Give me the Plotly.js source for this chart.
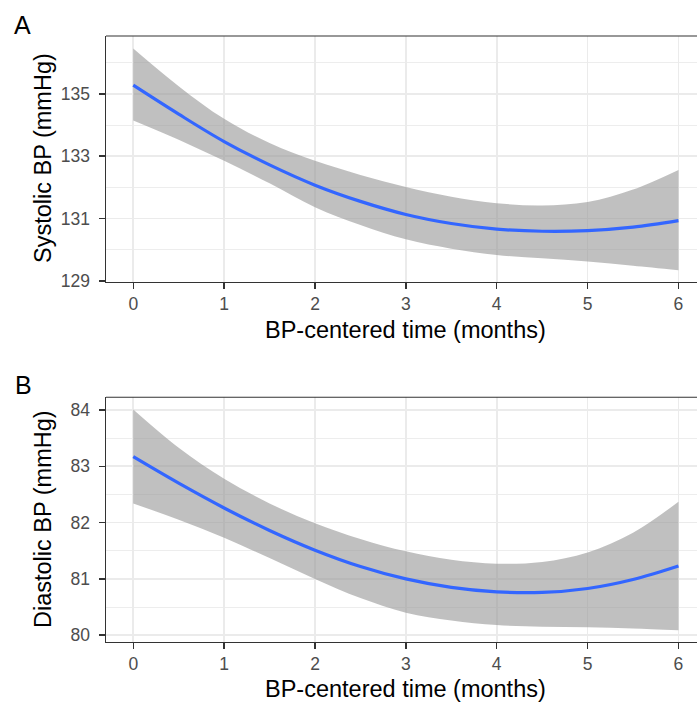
<!DOCTYPE html>
<html>
<head>
<meta charset="utf-8">
<script src="https://cdn.plot.ly/plotly-3.0.1.min.js"></script>
<style>html,body{margin:0;padding:0;background:#fff;}#chart{width:697px;height:702px;}</style>
</head>
<body>
<div id="chart"></div>
<script>
// ---- Data ----
const months = [0, 0.5, 1, 1.5, 2, 2.5, 3, 3.5, 4, 4.5, 5, 5.5, 6];

const sbpFit   = [135.28, 134.35, 133.47, 132.72, 132.07, 131.55, 131.13, 130.84, 130.66, 130.59, 130.61, 130.72, 130.93];
const sbpUpper = [136.46, 135.25, 134.20, 133.42, 132.85, 132.40, 132.01, 131.70, 131.49, 131.42, 131.53, 131.93, 132.56];
const sbpLower = [134.15, 133.53, 132.85, 132.13, 131.36, 130.79, 130.33, 130.03, 129.83, 129.72, 129.62, 129.48, 129.34];

const dbpFit   = [83.17, 82.70, 82.26, 81.86, 81.51, 81.22, 81.00, 80.85, 80.77, 80.76, 80.83, 80.99, 81.23];
const dbpUpper = [84.01, 83.33, 82.78, 82.34, 81.99, 81.71, 81.49, 81.34, 81.27, 81.30, 81.47, 81.82, 82.37];
const dbpLower = [82.34, 82.05, 81.73, 81.37, 81.00, 80.66, 80.40, 80.26, 80.18, 80.15, 80.14, 80.12, 80.09];

const panelLabels = ["A", "B"];
const xTitle = "BP-centered time (months)";
const yTitles = ["Systolic BP (mmHg)", "Diastolic BP (mmHg)"];

// ---- Styling ----
const W = 697, H = 702, ML = 106;
const px2x = p => (p - ML) / (W - ML);
const py2y = p => (H - p) / H;
const FONT = "Liberation Sans, Arial, Helvetica, sans-serif";
const ribbonColor = "rgba(153,153,153,0.62)";
const lineColor = "#3366FF";
const gridColor = "#EBEBEB";

function ribbon(x, up, lo, xa, ya) {
  return [
    {x: x, y: up, xaxis: xa, yaxis: ya, type: "scatter", mode: "lines",
     line: {width: 0, shape: "spline", smoothing: 1, color: ribbonColor}, hoverinfo: "skip", showlegend: false},
    {x: x, y: lo, xaxis: xa, yaxis: ya, type: "scatter", mode: "lines", fill: "tonexty",
     fillcolor: ribbonColor, line: {width: 0, shape: "spline", smoothing: 1, color: ribbonColor}, hoverinfo: "skip", showlegend: false}
  ];
}
function fitLine(x, y, xa, ya) {
  return {x: x, y: y, xaxis: xa, yaxis: ya, type: "scatter", mode: "lines",
          line: {color: lineColor, width: 3.2, shape: "spline", smoothing: 1}, showlegend: false};
}

const data = [
  ...ribbon(months, sbpUpper, sbpLower, "x", "y"),
  fitLine(months, sbpFit, "x", "y"),
  ...ribbon(months, dbpUpper, dbpLower, "x2", "y2"),
  fitLine(months, dbpFit, "x2", "y2")
];

const tickFont = {family: FONT, size: 17.5, color: "#4D4D4D"};
function xaxisCfg(anchor) {
  return {anchor: anchor, domain: [0, 1], range: [-0.3, 6.204], tickmode: "linear", tick0: 0, dtick: 1,
          showgrid: true, gridcolor: gridColor, gridwidth: 1.8, zeroline: false,
          showline: true, linecolor: "#333333", linewidth: 1.5, mirror: false,
          ticks: "outside", ticklen: 5.5, tickwidth: 1.5, tickcolor: "#333333",
          tickfont: tickFont, fixedrange: true};
}
function yaxisCfg(anchor, domain, range, tick0, dtick, minorD) {
  return {anchor: anchor, domain: domain, range: range, tickmode: "linear", tick0: tick0, dtick: dtick,
          showgrid: true, gridcolor: gridColor, gridwidth: 1.8, zeroline: false,
          minor: {dtick: minorD, tick0: tick0, showgrid: true, gridcolor: gridColor, gridwidth: 0.9, ticks: ""},
          showline: true, linecolor: "#333333", linewidth: 1.5, mirror: false,
          ticks: "outside", ticklen: 6, tickwidth: 1.5, tickcolor: "#333333",
          tickfont: tickFont, ticklabelstandoff: 5, fixedrange: true};
}

const domA = [py2y(281.7), py2y(36)];
const domB = [py2y(641.7), py2y(397.3)];

const titleFont = {family: FONT, size: 23.5, color: "#000000"};
const labelFont = {family: FONT, size: 25, color: "#000000"};

const annotations = [
  {text: panelLabels[0], x: px2x(12), y: py2y(25), xref: "paper", yref: "paper", xanchor: "left", yanchor: "middle", showarrow: false, font: labelFont},
  {text: panelLabels[1], x: px2x(13), y: py2y(385), xref: "paper", yref: "paper", xanchor: "left", yanchor: "middle", showarrow: false, font: labelFont},
  {text: xTitle, x: px2x(405), y: py2y(330), xref: "paper", yref: "paper", xanchor: "center", yanchor: "middle", showarrow: false, font: titleFont},
  {text: xTitle, x: px2x(405), y: py2y(689), xref: "paper", yref: "paper", xanchor: "center", yanchor: "middle", showarrow: false, font: titleFont},
  {text: yTitles[0], x: px2x(43), y: py2y(158), xref: "paper", yref: "paper", xanchor: "center", yanchor: "middle", textangle: -90, showarrow: false, font: titleFont},
  {text: yTitles[1], x: px2x(43), y: py2y(519), xref: "paper", yref: "paper", xanchor: "center", yanchor: "middle", textangle: -90, showarrow: false, font: titleFont}
];

const shapes = [
  {type: "line", xref: "paper", yref: "paper", x0: 0, x1: 1, y0: domA[1], y1: domA[1], line: {color: "#333333", width: 1.1}},
  {type: "line", xref: "paper", yref: "paper", x0: 0, x1: 1, y0: domB[1], y1: domB[1], line: {color: "#333333", width: 1.1}}
];

const layout = {
  width: W, height: H,
  margin: {l: ML, r: 0, t: 0, b: 0, pad: 0},
  paper_bgcolor: "#FFFFFF", plot_bgcolor: "#FFFFFF",
  showlegend: false,
  xaxis: xaxisCfg("y"),
  yaxis: yaxisCfg("x", domA, [128.97, 136.86], 129, 2, 1),
  xaxis2: xaxisCfg("y2"),
  yaxis2: yaxisCfg("x2", domB, [79.885, 84.225], 80, 1, 0.5),
  annotations: annotations,
  shapes: shapes,
  font: {family: FONT}
};

Plotly.newPlot("chart", data, layout, {displayModeBar: false, staticPlot: true});
</script>
</body>
</html>
